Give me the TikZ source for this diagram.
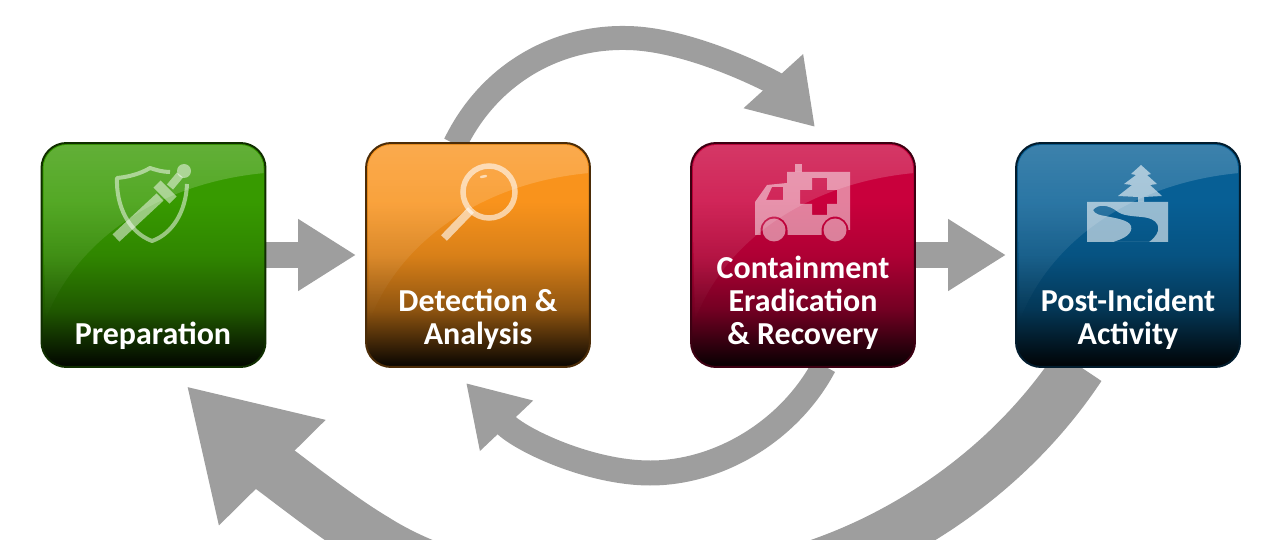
\documentclass[tikz,border=0pt]{standalone}
\usepackage{fontspec}
\setmainfont{Carlito}
\usetikzlibrary{arrows.meta,backgrounds,fadings}
\newcommand{\boxshade}[2]{%
  \pgfdeclareverticalshading{#1}{100bp}{color(0bp)=(#2!3!black); color(25bp)=(#2!3!black);
    color(31bp)=(#2!28!black); color(38bp)=(#2!58!black); color(50bp)=(#2!87!black); color(62bp)=(#2); color(100bp)=(#2)}}
\definecolor{prepgreen}{HTML}{379A00}
\definecolor{detorange}{HTML}{F9931C}
\definecolor{contred}{HTML}{C9003C}
\definecolor{postblue}{HTML}{075F95}
\definecolor{arcgray}{HTML}{9E9E9E}
\boxshade{prepshade}{prepgreen}
\boxshade{detshade}{detorange}
\boxshade{contshade}{contred}
\boxshade{postshade}{postblue}
\tikzfading[name=glossfade, top color=transparent!0, middle color=transparent!25, bottom color=transparent!100]
\tikzset{
  phase/.style={minimum size=4.48cm, rounded corners=.5cm, line width=.04cm, inner sep=0pt},
  phasetext/.style={text=white, font=\fontsize{18.2}{18.7}\selectfont\bfseries, align=center, anchor=south, inner sep=0pt},
  straightflow/.style={draw=arcgray, line width=.52cm, -{Triangle[length=1.16cm,width=1.36cm]}, shorten >=.18cm},
  toparc/.style={draw=arcgray, line width=.48cm, -{Triangle[length=1.24cm,width=1.52cm]}},
  lowarc/.style={draw=arcgray, line width=.5cm, -{Triangle[length=1.18cm,width=1.38cm]}},
  bigarc/.style={draw=arcgray, line width=1.08cm, -{Triangle[length=2.44cm,width=2.82cm]}},
  icon/.style={white, opacity=.5}
}
\begin{document}
\begin{tikzpicture}[x=.02cm,y=-.02cm]
  \useasboundingbox (0,0) rectangle (1280,540);
  \clip (0,0) rectangle (1280,540);
  % the four phases
  \node[phase, shading=prepshade, draw=prepgreen!30!black] (prep) at (153.5,255) {};
  \node[phase, shading=detshade, draw=detorange!30!black] (det) at (478,255) {};
  \node[phase, shading=contshade, draw=contred!30!black] (cont) at (803,255) {};
  \node[phase, shading=postshade, draw=postblue!30!black] (post) at (1128,255) {};
  % gloss
  \foreach \name in {prep,det,cont,post}{
    \begin{scope}[shift={(\name.center)}]
      \clip[rounded corners=.47cm] (-110,-110) rectangle (110,110);
      \fill[white, opacity=.22, path fading=glossfade] (112,-82) .. controls (0,-72) and (-80,-10) .. (-108,65) -- (-112,-112) -- (112,-112) -- cycle;
    \end{scope}
  }
  % labels
  \node[phasetext] (preplabel) at (153,350) {Preparation};
  \node[phasetext] (detlabel) at (478,350) {Detection \&\\Analysis};
  \node[phasetext] (contlabel) at (803,350) {Containment\\Eradication\\\& Recovery};
  \node[phasetext] (postlabel) at (1128,350) {Post-Incident\\Activity};
  % shield and sword
  \draw[icon, line width=.08cm, line join=round] (170,172) .. controls (163,172) and (156,170) .. (150,168) .. controls (140,174) and (128,177) .. (117,178) .. controls (116,205) and (128,232) .. (152,241) .. controls (172,234) and (186,212) .. (187,184);
  \draw[icon, line width=.2cm] (116,238) -- (160,197);
  \draw[icon, line width=.2cm] (157,184) -- (173,200);
  \draw[icon, line width=.16cm] (170,187) -- (180,175);
  \fill[icon] (184,171) circle (7);
  % magnifier
  \draw[icon, opacity=.6, line width=.11cm] (489,192) circle (26);
  \draw[icon, opacity=.6, line width=.16cm] (471,210) -- (444,238);
  \draw[icon, opacity=.6, line width=.05cm, line cap=round] (481,177) -- (486,176);
  % ambulance
  \fill[icon, even odd rule] (787,172) -- (850,172) -- (850,230) -- (848.5,230) arc[start angle=0,end angle=-180,radius=13.5] -- (821.5,235) -- (787.5,235) -- (787.5,230) arc[start angle=0,end angle=-180,radius=13.5] -- (760.5,235) -- (755,235) -- (755,202) -- (767,185) -- (787,183) -- cycle
    (812,178) -- (827,178) -- (827,190) -- (837,190) -- (837,204) -- (827,204) -- (827,215) -- (812,215) -- (812,204) -- (800,204) -- (800,190) -- (812,190) -- cycle
    (766,200) -- (772,187) -- (783,187) -- (783,200) -- cycle;
  \fill[icon] (795,164) rectangle (802,172);
  \fill[icon] (774,230) circle (11.5) (835,230) circle (11.5);
  % tree and river
  \fill[icon, opacity=.58] (1141,165) -- (1151,174) -- (1147,175) -- (1157,184) -- (1150,185) -- (1162,196) -- (1144,197) -- (1144,202) -- (1138,202) -- (1138,197) -- (1118,196) -- (1132,185) -- (1124,184) -- (1136,175) -- (1131,174) -- cycle;
  \fill[icon, opacity=.58, even odd rule] (1087,202) -- (1168,202) -- (1168,242) -- (1087,242) -- cycle
    (1093,210) .. controls (1098,204) and (1108,204) .. (1118,212) .. controls (1125,217) and (1140,216) .. (1148,218) .. controls (1160,221) and (1163,232) .. (1149,242) -- (1112,242) .. controls (1125,239) and (1133,233) .. (1131,226) .. controls (1129,220) and (1115,218) .. (1105,216) .. controls (1099,215) and (1095,214) .. cycle;
  % connectors
  \begin{scope}[on background layer]
    \draw[straightflow] (prep.east) -- (det.west);
    \draw[straightflow] (cont.east) -- (post.west);
    \draw[toparc] ([shift={(-23,2)}]det.north) .. controls ([shift={(12,-70)}]det.north) and ([shift={(80,-105)}]det.north) .. (625,38) .. controls (690,38) and (775,83) .. ([shift={(12,-15)}]cont.north);
    \draw[lowarc] ([shift={(21,-2)}]cont.south) .. controls (790,430) and (720,473) .. (650,473) .. controls (590,473) and (520,440) .. ([shift={(-12,15)}]det.south);
    \draw[bigarc] ([shift={(-49,-2)}]post.south) .. controls (1030,440) and (960,500) .. (880,540) .. controls (720,620) and (500,620) .. (374,540) .. controls (320,508) and (235,435) .. ([shift={(33,18)}]prep.south);
  \end{scope}
\end{tikzpicture}
\end{document}
